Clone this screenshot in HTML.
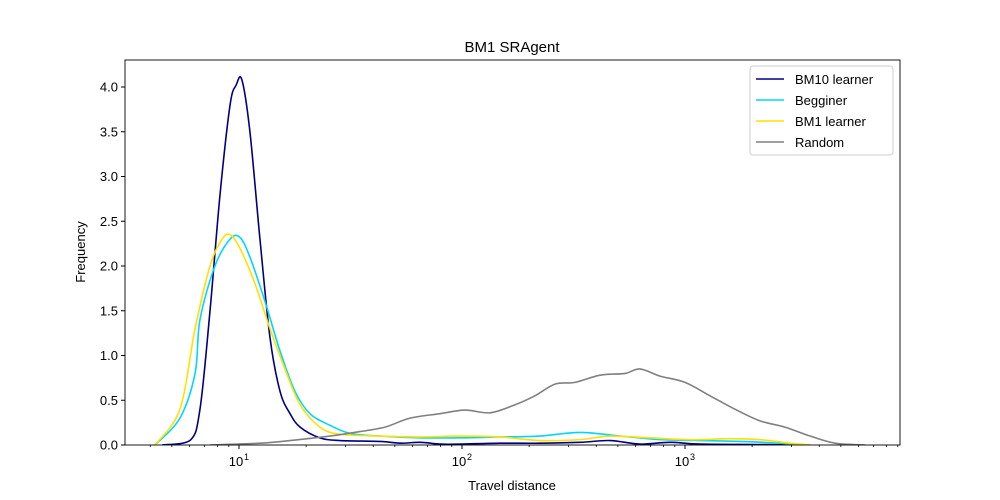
<!DOCTYPE html>
<html><head><meta charset="utf-8"><style>
body{margin:0;background:#fff;}
svg{display:block;font-family:"Liberation Sans","DejaVu Sans",sans-serif;}
</style></head><body>
<svg id="chart" width="1000" height="500"></svg>
<script>
// data: log10(travel distance) and frequency
const bm10X=[0.655,0.780,0.825,0.870,0.915,0.960,0.987,1.013,1.049,1.094,1.139,1.184,1.229,1.274,1.363,1.453,1.632,1.722,1.812,1.901,1.991,2.170,2.350,2.529,2.664,2.798,2.933,3.067,3.336,3.516];
const bm10Y=[0,0.05,0.4,1.5,2.8,3.8,4.02,4.08,3.5,2.3,1.2,0.6,0.35,0.2,0.08,0.05,0.04,0.02,0.03,0.01,0.01,0.02,0.02,0.03,0.05,0.01,0.03,0.01,0.005,0];
const begX=[0.623,0.735,0.803,0.825,0.892,0.960,1.004,1.049,1.117,1.184,1.251,1.318,1.408,1.498,1.632,1.812,1.991,2.170,2.350,2.529,2.709,2.888,3.067,3.247,3.426,3.516];
const begY=[0,0.3,0.8,1.4,2.0,2.3,2.32,2.1,1.6,1.05,0.6,0.35,0.22,0.13,0.1,0.08,0.08,0.09,0.1,0.14,0.1,0.06,0.05,0.04,0.02,0];
const bm1X=[0.623,0.735,0.803,0.870,0.924,0.960,1.004,1.072,1.139,1.206,1.274,1.363,1.453,1.632,1.812,1.991,2.170,2.350,2.529,2.664,2.843,3.022,3.202,3.336,3.471,3.561];
const bm1Y=[0,0.4,1.3,2.0,2.3,2.35,2.2,1.8,1.3,0.85,0.45,0.2,0.12,0.1,0.09,0.1,0.09,0.05,0.06,0.1,0.08,0.06,0.07,0.06,0.02,0];
const rndX=[0.870,1.094,1.229,1.408,1.543,1.655,1.767,1.901,2.013,2.126,2.238,2.327,2.417,2.507,2.619,2.731,2.798,2.888,3.000,3.112,3.224,3.336,3.448,3.561,3.673,3.807];
const rndY=[0,0.02,0.05,0.1,0.15,0.2,0.3,0.35,0.39,0.36,0.45,0.55,0.68,0.7,0.78,0.8,0.85,0.77,0.7,0.55,0.4,0.27,0.2,0.1,0.02,0];
const yTicks=[0,0.5,1,1.5,2,2.5,3,3.5,4];
const yLabels=["0.0","0.5","1.0","1.5","2.0","2.5","3.0","3.5","4.0"];
const xDecades=[1,2,3];

const L=125,R=900,T=60,B=445;
const xs=lx=>239+(lx-1)*223;
const ys=v=>B-v*89.5;
const svg=document.getElementById('chart');
const NS='http://www.w3.org/2000/svg';
function mk(tag,attrs,parent){const e=document.createElementNS(NS,tag);for(const k in attrs)e.setAttribute(k,attrs[k]);(parent||svg).appendChild(e);return e;}

let t=mk('text',{x:512,y:52,'text-anchor':'middle','font-size':15});t.textContent='BM1 SRAgent';



function path(X,Y){const p=X.map((x,i)=>[xs(x),ys(Y[i])]);let d='M'+p[0][0]+','+p[0][1];
 for(let i=0;i<p.length-1;i++){const p0=p[Math.max(0,i-1)],p1=p[i],p2=p[i+1],p3=p[Math.min(p.length-1,i+2)];
  const c1=[p1[0]+(p2[0]-p0[0])/6,p1[1]+(p2[1]-p0[1])/6],c2=[p2[0]-(p3[0]-p1[0])/6,p2[1]-(p3[1]-p1[1])/6];
  d+=`C${c1[0]},${Math.min(B,c1[1])} ${c2[0]},${Math.min(B,c2[1])} ${p2[0]},${p2[1]}`;}
 return d;}
const series=[[bm10X,bm10Y,'#000080','bm10-learner-line'],[begX,begY,'#00d5ff','begginer-line'],[bm1X,bm1Y,'#ffe000','bm1-learner-line'],[rndX,rndY,'#808080','random-line']];
const clip=mk('clipPath',{id:'cp'});mk('rect',{x:L,y:T,width:R-L,height:B-T},clip);
for(const s of series){const e=mk('path',{d:path(s[0],s[1]),fill:'none',stroke:s[2],'stroke-width':1.6,'clip-path':'url(#cp)'});
 
 }

const fr=mk('rect',{x:L,y:T,width:R-L,height:B-T,fill:'none',stroke:'#000','stroke-width':0.9});



yTicks.forEach((v,i)=>{mk('line',{x1:L-4,x2:L,y1:ys(v),y2:ys(v),stroke:'#000'});
 const tx=mk('text',{x:L-7,y:ys(v)+4.5,'text-anchor':'end','font-size':13});tx.textContent=yLabels[i];
 
 });
xDecades.forEach(d=>{const x=xs(d);mk('line',{x1:x,x2:x,y1:B,y2:B+4,stroke:'#000'});
 const tx=mk('text',{x:x-3,y:B+21,'text-anchor':'middle','font-size':13});tx.textContent='10';
 
 
 const sp=mk('text',{x:x+5,y:B+15,'text-anchor':'start','font-size':9});sp.textContent=String(d);});
for(let d=0;d<4;d++)for(let m=2;m<10;m++){const lx=d+Math.log10(m);const x=xs(lx);if(x>L&&x<R)mk('line',{x1:x,x2:x,y1:B,y2:B+2,stroke:'#000','stroke-width':0.8});}

let xl=mk('text',{x:512,y:490,'text-anchor':'middle','font-size':13});xl.textContent='Travel distance';


let yl=mk('text',{x:85,y:252,'text-anchor':'middle','font-size':13,transform:'rotate(-90 85 252)'});yl.textContent='Frequency';



const lg=mk('g',{});


mk('rect',{x:750,y:66,width:143,height:89,rx:3,fill:'#fff',stroke:'#ccc'},lg);
const names=['BM10 learner','Begginer','BM1 learner','Random'];
series.forEach((s,i)=>{const y=79+i*21;mk('line',{x1:756,x2:784,y1:y,y2:y,stroke:s[2],'stroke-width':1.6},lg);
 const tx=mk('text',{x:795,y:y+5,'font-size':13},lg);tx.textContent=names[i];
 
 });
</script>
</body></html>
